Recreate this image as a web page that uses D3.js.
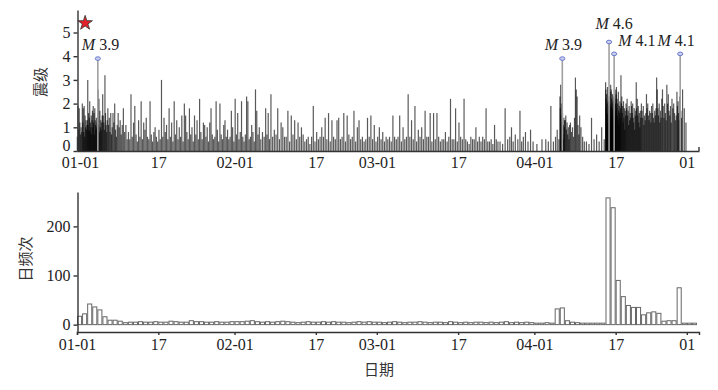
<!DOCTYPE html>
<html>
<head>
<meta charset="utf-8">
<script src="https://cdn.jsdelivr.net/npm/d3@7"></script>
<style>
body { margin: 0; background: #fff; }
.axis .domain, .axis line { stroke: #333; stroke-width: 1.4; }
.axis text { font-family: "Liberation Serif", "Times New Roman", serif; font-size: 16px; fill: #222; }
.ylab { font-family: "Noto Sans CJK SC", sans-serif; font-size: 15px; fill: #333; }
.anno { font-family: "Liberation Serif", serif; font-size: 16px; fill: #222; }
</style>
</head>
<body>
<svg id="chart" width="718" height="390"></svg>
<script>
// x ticks, as day index counted from 01-01
const tickDays = [0, 16, 31, 47, 59, 75, 90, 106, 120];
const tickLabels = ["01-01", "17", "02-01", "17", "03-01", "17", "04-01", "17", "01"];
const magTicks = [0, 1, 2, 3, 4, 5];
const countTicks = [0, 100, 200];

// daily number of events
const countJan = [17, 22, 42, 36, 30, 16, 9, 9, 7, 4, 5, 5, 6, 5, 5, 6, 5, 5, 7, 6, 5, 5, 8, 6, 6, 5, 5, 6, 5, 5, 6];
const countFeb = [6, 6, 7, 8, 6, 5, 6, 5, 6, 7, 6, 5, 4, 5, 6, 5, 5, 6, 5, 6, 5, 5, 4, 5, 6, 5, 6, 5];
const countMar = [5, 4, 5, 6, 5, 4, 5, 5, 6, 5, 4, 5, 5, 4, 6, 5, 4, 5, 4, 5, 5, 4, 5, 4, 5, 6, 4, 5, 4, 5, 4];
const countApr = [3, 3, 4, 3, 32, 34, 8, 5, 4, 3, 3, 3, 3, 3, 258, 238, 90, 57, 39, 35, 35, 20, 24, 26, 23, 7, 8, 8, 75, 3];
const countMay = [3, 3];

// magnitudes of the events, one list per day
const magJan = [
  [0.6,1.9,0.9,1.8,1.2,0.7,1.0,0.8], [2.0,1.2,1.8,0.8,1.9,0.6,1.5,1.0,1.3,0.9,1.1],
  [1.3,3.0,1.1,1.6,0.9,1.4,2.1,0.8,1.2,1.0,1.5,0.7,1.3], [1.7,1.0,1.9,1.2,1.6,0.7,1.8,1.3,1.1,0.9,1.4,1.0,1.2],
  [1.4,2.6,1.1,2.2,0.8,1.7,1.0,1.3,0.9,1.2,1.5], [2.4,1.5,1.2,0.9,3.2,1.6,1.1,0.8,1.3],
  [1.8,1.1,1.4,0.8,1.6,0.7,1.0], [1.6,1.2,2.0,0.9,0.6,1.1], [1.6,1.0,1.3,0.7,1.1], [1.8,0.8,1.1,0.5],
  [0.8,0.5,2.4,0.6], [1.2,1.9,0.7,0.4], [1.3,0.6,2.1,0.5], [1.2,0.9,1.4,0.6], [0.5,2.1,0.7,0.4],
  [0.8,1.0,0.6,0.4], [0.9,0.5,3.0,0.6], [1.4,0.8,1.1,0.5], [1.8,0.6,1.2,0.4], [2.1,0.7,1.3,0.5],
  [1.0,0.6,1.5,0.4], [2.0,1.5,0.8,0.5], [1.8,0.7,1.0,0.4], [1.5,0.7,1.3,0.5], [2.2,0.8,0.5,1.2],
  [1.1,0.6,1.0,0.4], [1.2,1.8,0.7,0.5], [0.6,2.1,0.9,0.4], [2.0,0.7,0.5,1.1], [1.3,0.6,0.9,0.5],
  [0.6,1.7,1.0,0.4]
];
const magFeb = [
  [2.2,0.7,1.6,0.5], [0.8,2.1,0.6,0.4], [0.7,2.3,2.1,0.5], [0.6,1.1,0.8,0.4], [2.6,1.7,0.7,1.0],
  [0.5,0.8,0.6], [1.8,0.7,1.6,0.5], [2.4,0.6,0.9], [0.7,1.8,0.5], [1.2,1.0,0.6], [0.6,1.7,0.4],
  [1.5,0.7,1.3], [0.5,1.2,0.6], [1.0,0.7,0.4], [0.5,0.6,0.3], [0.6,1.9,0.4], [0.8,0.5,0.6],
  [1.0,0.6,1.4], [0.5,1.6,0.4], [1.3,0.6,0.5], [1.3,1.4,0.5], [0.6,1.6,0.4], [1.5,0.7,0.5],
  [0.6,1.7,0.4], [1.0,1.3,0.5], [0.6,0.4,0.5], [1.4,0.6,1.5], [0.5,1.1,0.4]
];
const magMar = [
  [0.6,1.0,0.5], [0.8,0.4,0.6], [0.5,0.6,0.4], [1.5,0.6,0.5], [0.6,1.5,0.4], [1.0,0.5,0.6],
  [2.4,0.6,1.3], [0.5,1.9,0.4], [0.9,0.6,1.0], [0.5,1.7,0.6], [0.6,1.6,0.4], [1.6,0.5,1.6],
  [0.6,0.4,0.5], [0.5,0.8,0.4], [0.6,2.2,0.5], [0.5,1.8,0.4], [1.2,0.6,0.5], [2.2,0.5,0.4],
  [0.3,0.6,0.5], [0.5,1.0,0.4], [0.6,0.4,0.6], [0.5,1.8,0.4], [0.4,0.5,0.3], [1.1,0.5,0.4],
  [0.4,0.3], [1.8,0.5], [0.6,1.0,0.4], [0.7,0.5], [1.7,0.4,0.6], [0.8,0.4], [0.9,0.4]
];
const magApr = [
  [0.3], [0.5], [0.5,0.4], [1.9,0.4], [0.6,0.9,0.5],
  [2.3,1.8,2.8,1.5,2.0,1.2,0.9,1.6,0.7,1.1,0.5,1.4,1.0,1.3], [1.3,1.5,0.9,1.2,0.7,1.0,0.5,1.1],
  [1.2,0.8,1.0,0.6,1.4], [3.1,2.6,2.3,1.1,0.7,1.5], [1.0,0.6,0.4], [0.4,0.3], [1.4,0.5],
  [0.7,0.4], [1.0,0.5],
  [2.9,2.6,2.2,1.8,2.4,1.5,2.0,1.2,2.7,1.6,0.9,2.1,1.4,1.9,1.1,2.3,1.7,1.3,2.0,1.5,1.8,1.0],
  [2.8,2.5,2.6,1.9,2.2,1.4,2.0,1.7,2.4,1.2,1.8,2.1,1.5,2.3,1.0,1.6,1.9,1.3,2.2,1.7,1.4,2.0],
  [2.6,2.4,2.7,1.8,2.2,1.5,2.0,1.3,2.5,1.7,1.1,1.9,1.6,2.1,1.4,1.8],
  [3.2,2.0,2.3,1.6,1.9,1.2,2.1,1.4,1.8,0.9,1.7,1.5], [2.0,1.8,2.2,1.5,1.7,1.1,1.9,1.3,1.6,1.4],
  [2.1,1.9,1.6,2.0,1.4,1.2,1.8,0.9,1.5,1.7], [2.9,1.8,2.2,1.5,1.9,1.2,1.6,1.0,1.7,1.4],
  [2.0,1.7,1.4,1.9,1.1,1.5,1.3,1.6], [2.4,1.8,2.0,1.5,1.3,1.7,1.6,1.2], [1.9,1.6,2.0,1.4,1.2,1.7,1.5,1.8],
  [3.1,2.6,1.8,1.5,2.0,1.2,1.7,1.4], [2.2,2.6,1.9,1.4,2.0,1.6,1.3], [2.8,2.0,2.4,1.7,1.5,1.9,1.2],
  [2.2,1.8,2.0,1.6,1.3,1.5], [2.5,1.9,2.1,1.6,1.3,2.3,1.0,1.7,1.4], [2.6,1.8,1.2]
];

// labelled larger events (day index, magnitude) and the main shock
const bigDays = [4.1, 95.5, 104.7, 105.7, 118.7];
const bigMags = [3.9, 3.9, 4.6, 4.1, 4.1];
const starDay = 1.6, starMag = 5.4;

const svg = d3.select("#chart");

const x = d3.scaleLinear().domain([0, 122.4]).range([77, 699]);
const yMag = d3.scaleLinear().domain([0, 5.95]).range([151, 10]);
const yCnt = d3.scaleLinear().domain([-15, 270]).range([332, 192]);

const magDays = [].concat(magJan, magFeb, magMar, magApr);
const counts = [].concat(countJan, countFeb, countMar, countApr, countMay);

// flatten: events of a day are spread over that day
const events = [];
magDays.forEach((list, d) => {
  list.forEach((m, i) => events.push({ t: d + (i + 0.5) / list.length, m: m }));
});

// ---- top panel: magnitude stems
const topG = svg.append("g");
topG.selectAll("line.ev")
  .data(events)
  .enter()
  .append("line")
  .attr("class", "ev")
  .attr("x1", d => x(d.t)).attr("x2", d => x(d.t))
  .attr("y1", yMag(0)).attr("y2", d => yMag(d.m))
  .attr("stroke", "#000")
  .attr("stroke-width", 1.2)
  .attr("stroke-opacity", 0.65);

const big = bigDays.map((d, i) => ({ t: d, m: bigMags[i] }));
topG.selectAll("line.big")
  .data(big)
  .enter()
  .append("line")
  .attr("class", "big")
  .attr("x1", d => x(d.t)).attr("x2", d => x(d.t))
  .attr("y1", yMag(0)).attr("y2", d => yMag(d.m))
  .attr("stroke", "#a0a0a0")
  .attr("stroke-width", 1.6);
topG.selectAll("ellipse.big")
  .data(big)
  .enter()
  .append("ellipse")
  .attr("cx", d => x(d.t)).attr("cy", d => yMag(d.m))
  .attr("rx", 2.6).attr("ry", 1.8)
  .attr("fill", "#c9d0f0")
  .attr("stroke", "#6a78cc")
  .attr("stroke-width", 1);

// label layout (anchor, dx, dy) in the order of bigDays
const annoLayout = [["start", -16, -9], ["middle", 1, -9], ["middle", 5, -13], ["start", 4, -8], ["middle", -4, -8]];
const anno = topG.selectAll("text.anno")
  .data(big)
  .enter()
  .append("text")
  .attr("class", "anno")
  .attr("x", (d, i) => x(d.t) + annoLayout[i][1])
  .attr("y", (d, i) => yMag(d.m) + annoLayout[i][2])
  .attr("text-anchor", (d, i) => annoLayout[i][0]);
anno.append("tspan").attr("font-style", "italic").text("M");
anno.append("tspan").text(d => " " + d.m.toFixed(1));

topG.append("path")
  .attr("d", d3.symbol().type(d3.symbolStar).size(66)())
  .attr("transform", `translate(${x(starDay)},${yMag(starMag)})`)
  .attr("fill", "#e3212b")
  .attr("stroke", "#333")
  .attr("stroke-width", 0.8);

// axes of the top panel
svg.append("g").attr("class", "axis")
  .attr("transform", "translate(0,151)")
  .call(d3.axisBottom(x).tickValues(tickDays).tickSize(0).tickPadding(6)
    .tickFormat((d, i) => tickLabels[i]))
  .selectAll(".tick text").filter(d => d === 0).attr("x", 3);
svg.append("line")
  .attr("x1", x.range()[1]).attr("x2", x.range()[1])
  .attr("y1", 151).attr("y2", 147)
  .attr("stroke", "#333").attr("stroke-width", 1.4);
svg.append("g").attr("class", "axis")
  .attr("transform", "translate(77.5,0)")
  .call(d3.axisLeft(yMag).tickValues(magTicks).tickFormat(d3.format("d"))
    .tickSize(4).tickSizeOuter(0).tickPadding(3))
  .selectAll(".tick text").filter(d => d === 0).attr("y", -6);

// ---- bottom panel: daily counts
svg.append("g").selectAll("rect")
  .data(counts)
  .enter()
  .append("rect")
  .attr("x", (d, i) => x(i) + 0.5)
  .attr("width", (d, i) => x(i + 1) - x(i) - 1)
  .attr("y", d => yCnt(d))
  .attr("height", d => yCnt(0) - yCnt(d))
  .attr("fill", "#fff")
  .attr("stroke", "#666")
  .attr("stroke-width", 1);

svg.append("g").attr("class", "axis")
  .attr("transform", "translate(0,332)")
  .call(d3.axisBottom(x).tickValues(tickDays).tickSize(3).tickSizeOuter(3).tickPadding(4)
    .tickFormat((d, i) => tickLabels[i]));
svg.append("g").attr("class", "axis")
  .attr("transform", "translate(77.5,0)")
  .call(d3.axisLeft(yCnt).tickValues(countTicks).tickSize(4).tickSizeOuter(0).tickPadding(3));

// axis titles
svg.append("text").attr("class", "ylab")
  .attr("transform", "translate(46,82) rotate(-90)")
  .attr("text-anchor", "middle").text("震级");
svg.append("text").attr("class", "ylab")
  .attr("transform", "translate(31,259) rotate(-90)")
  .attr("text-anchor", "middle").text("日频次");
svg.append("text").attr("class", "ylab")
  .attr("x", 379).attr("y", 375)
  .attr("text-anchor", "middle").text("日期");
</script>
</body>
</html>
